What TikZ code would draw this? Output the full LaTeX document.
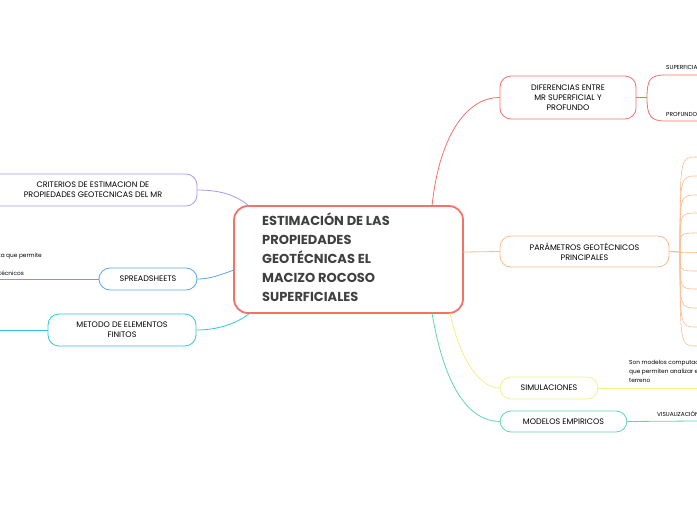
\documentclass[tikz,border=0pt]{standalone}
\usepackage{fontspec}
\setmainfont{Poppins}
\begin{document}
\begin{tikzpicture}[x=1pt,y=-1pt,
  box/.style={draw,rounded corners=11pt,line width=0.8pt,fill=white,align=center,font=\fontsize{8}{10}\selectfont,inner sep=0pt},
  small/.style={font=\fontsize{5.8}{6.5}\selectfont,inner sep=0pt,align=left}]
\definecolor{cred}{HTML}{F2726A}\definecolor{corg}{HTML}{FDBA8C}
\definecolor{cyel}{HTML}{F5EF8A}\definecolor{cteal}{HTML}{5FD8A8}
\definecolor{cpur}{HTML}{A99AF0}\definecolor{cblue}{HTML}{5AA8E8}
\definecolor{ccyan}{HTML}{30C8D8}
\useasboundingbox (0,0) rectangle (697,520);
\clip (0,0) rectangle (697,520);
% center
\node[box,draw=cred,line width=1.8pt,rounded corners=14pt,minimum width=229pt,minimum height=107pt] (c) at (348.5,259.5) {};
\node[anchor=north west,align=left,inner sep=0pt,font=\fontsize{13}{19}\selectfont\bfseries,text=black!75] (ct) at (262,213)
 {ESTIMACIÓN DE LAS\\PROPIEDADES\\GEOTÉCNICAS EL\\MACIZO ROCOSO\\SUPERFICIALES};
% right
\node[box,draw=cred,minimum width=136pt,minimum height=43pt] (d) at (568,97.5) {DIFERENCIAS ENTRE\\MR SUPERFICIAL Y\\PROFUNDO};
\node[box,draw=corg,minimum width=169pt,minimum height=31pt] (p) at (584.5,251.5) {PARÁMETROS GEOTÉCNICOS\\PRINCIPALES};
\node[box,draw=cyel,minimum width=98pt,minimum height=22pt] (s) at (549,388) {SIMULACIONES};
\node[box,draw=cteal,minimum width=127pt,minimum height=21pt] (m) at (563.5,421.5) {MODELOS EMPIRICOS};
% left
\node[box,draw=cpur,minimum width=220pt,minimum height=32pt] (cr) at (87,190) {};
\node[font=\fontsize{8}{10}\selectfont,align=center] (crt) at (93,190) {CRITERIOS DE ESTIMACION DE\\PROPIEDADES GEOTECNICAS DEL MR};
\node[box,draw=cblue,minimum width=98pt,minimum height=22pt] (sp) at (148,279) {SPREADSHEETS};
\node[box,draw=ccyan,minimum width=148pt,minimum height=32pt] (me) at (122,330) {METODO DE ELEMENTOS\\FINITOS};
% center connectors
\begin{scope}[line width=0.8pt]
\draw[cred] (432,206) .. controls (440,130) and (470,97) .. (d.west);
\draw[corg] (463,252) -- (p.west);
\draw[cyel] (450,313) .. controls (460,360) and (480,388) .. (s.west);
\draw[cteal] (432,313) .. controls (445,390) and (470,421) .. (m.west);
\draw[cpur] (250,207) .. controls (235,193) and (215,190) .. (cr.east);
\draw[cblue] (234,270) .. controls (220,275) and (210,279) .. (sp.east);
\draw[ccyan] (250,313) .. controls (235,325) and (215,330) .. (me.east);
\end{scope}
% red sub-branches
\coordinate (rf) at (647,97.5);
\draw[cred,line width=0.8pt] (d.east) -- (rf);
\draw[cred,line width=0.8pt] (rf) .. controls (647,80) and (650,75) .. (665,75) -- (697,75);
\draw[cred,line width=0.8pt] (rf) .. controls (647,115) and (650,121) .. (665,121) -- (697,121);
\node[small,anchor=base west] (t1) at (666,69) {SUPERFICIAL};
\node[small,anchor=base west] (t2) at (666,116) {PROFUNDO};
% orange sub-branches
\coordinate (of) at (680,252);
\draw[corg,line width=1.2pt] (p.east) -- (of);
\foreach \yy in {157,176,195,213,233,252,271,289,308,327,346}{
  \draw[corg,line width=0.6pt] (of) .. controls (680,\yy) .. (697,\yy);
}
% simulaciones / modelos
\draw[cyel,line width=0.8pt] (s.east) -- (697,388);
\node[small,anchor=north west,font=\fontsize{5.8}{9}\selectfont] (st) at (629,360) {Son modelos computacionales\\que permiten analizar el\\terreno};
\draw[cteal,line width=0.8pt] (m.east) -- (697,421);
\node[small,anchor=base west] (vt) at (657,416) {VISUALIZACIÓN};
% left subs
\draw[cblue,line width=0.8pt] (sp.west) -- (0,279);
\node[small,anchor=base east] (l1) at (42,257) {herramienta que permite};
\node[small,anchor=base east] (l2) at (24,275) {parámetros geotécnicos};
\draw[ccyan,line width=0.8pt] (me.west) -- (0,330);
\end{tikzpicture}
\end{document}
